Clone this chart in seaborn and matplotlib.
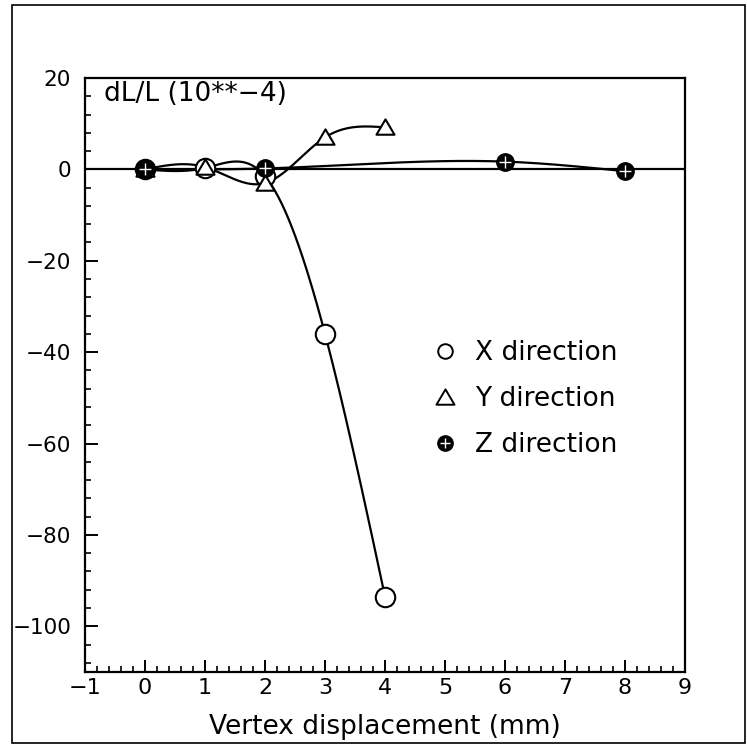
"""Relative length change dL/L versus vertex displacement, one curve per direction."""
import matplotlib
matplotlib.use('Agg')
import numpy as np
import seaborn as sns
from matplotlib import pyplot as plt
from matplotlib.lines import Line2D
from matplotlib.patches import Rectangle
from matplotlib.path import Path
from matplotlib.ticker import MultipleLocator

DPI = 100
FIGURE_SIZE = (7.47, 7.45)

# data
x_dir_pos = [0, 1, 2, 3, 4]
x_dir_val = [0.0, 0.3, -1.5, -36.0, -93.5]
y_dir_pos = [0, 1, 2, 3, 4]
y_dir_val = [0.0, 0.5, -3.0, 7.0, 9.2]
z_dir_pos = [0, 2, 6, 8]
z_dir_val = [0.0, 0.2, 1.7, -0.4]

series_labels = ['X direction', 'Y direction', 'Z direction']
x_ticks = [-1, 0, 1, 2, 3, 4, 5, 6, 7, 8, 9]
y_ticks = [-100, -80, -60, -40, -20, 0, 20]


def natural_spline(xs, ys, num=300):
    """Natural cubic spline through the given points, for drawing the curve."""
    xs = np.asarray(xs, dtype=float)
    ys = np.asarray(ys, dtype=float)
    n = len(xs)
    h = np.diff(xs)
    mat = np.zeros((n, n))
    rhs = np.zeros(n)
    mat[0, 0] = mat[-1, -1] = 1.0
    for i in range(1, n - 1):
        mat[i, i - 1] = h[i - 1]
        mat[i, i] = 2 * (h[i - 1] + h[i])
        mat[i, i + 1] = h[i]
        rhs[i] = 6 * ((ys[i + 1] - ys[i]) / h[i] - (ys[i] - ys[i - 1]) / h[i - 1])
    m = np.linalg.solve(mat, rhs)

    xf = np.linspace(xs[0], xs[-1], num)
    idx = np.clip(np.searchsorted(xs, xf) - 1, 0, n - 2)
    x0, x1 = xs[idx], xs[idx + 1]
    y0, y1 = ys[idx], ys[idx + 1]
    m0, m1, hh = m[idx], m[idx + 1], h[idx]
    a = (x1 - xf) / hh
    b = (xf - x0) / hh
    yf = a * y0 + b * y1 + ((a ** 3 - a) * m0 + (b ** 3 - b) * m1) * hh ** 2 / 6
    return xf, yf


sns.set_style('ticks')
plt.rcParams['font.family'] = ['DejaVu Sans']
plt.rcParams.update({'text.color': 'black', 'axes.labelcolor': 'black',
                     'xtick.color': 'black', 'ytick.color': 'black'})

fig = plt.figure(figsize=FIGURE_SIZE, dpi=DPI)
ax = fig.add_axes([0.1138, 0.098, 0.8032, 0.7973])

# outer frame round the whole picture
fig.patches.append(Rectangle((0.016, 0.003), 0.981, 0.990, transform=fig.transFigure,
                             fill=False, edgecolor='black', linewidth=1.2))

ax.axhline(0, color='black', linewidth=1.6, zorder=2)

# smooth curves through the points
for pos, val in [(x_dir_pos, x_dir_val), (y_dir_pos, y_dir_val), (z_dir_pos, z_dir_val)]:
    xf, yf = natural_spline(pos, val)
    sns.lineplot(x=xf, y=yf, ax=ax, color='black', linewidth=1.6, sort=False,
                 estimator=None, zorder=3)

tri = Path([(-1, -0.8), (1, -0.8), (0, 0.9), (-1, -0.8)],
           [Path.MOVETO, Path.LINETO, Path.LINETO, Path.CLOSEPOLY])

ax.plot(x_dir_pos, x_dir_val, linestyle='none', marker='o', markersize=14,
        markerfacecolor='white', markeredgecolor='black', markeredgewidth=1.5, zorder=4)
ax.plot(y_dir_pos, y_dir_val, linestyle='none', marker=tri, markersize=13,
        markerfacecolor='white', markeredgecolor='black', markeredgewidth=1.5, zorder=5)
ax.plot(z_dir_pos, z_dir_val, linestyle='none', marker='o', markersize=12.5,
        markerfacecolor='black', markeredgecolor='black', zorder=6)
ax.plot(z_dir_pos, z_dir_val, linestyle='none', marker='+', markersize=8,
        markeredgecolor='white', markeredgewidth=1.0, zorder=7)

ax.set_xlim(-1, 9)
ax.set_ylim(-110, 20)
ax.set_xticks(x_ticks)
ax.set_yticks(y_ticks)
ax.xaxis.set_minor_locator(MultipleLocator(0.2))
ax.yaxis.set_minor_locator(MultipleLocator(4))
ax.tick_params(which='both', direction='in', top=False, right=False, colors='black')
ax.tick_params(which='major', length=9, width=1.4)
ax.tick_params(which='minor', length=4.5, width=1.2)
ax.tick_params(axis='x', which='major', labelsize=16, pad=4)
ax.tick_params(axis='y', which='major', labelsize=15.5, pad=10)
for spine in ax.spines.values():
    spine.set_visible(True)
    spine.set_linewidth(1.6)
    spine.set_color('black')

ax.set_xlabel('Vertex displacement (mm)', fontsize=19, labelpad=12)
ax.set_ylabel('')
ax.text(0.032, 0.973, 'dL/L (10**\u22124)', transform=ax.transAxes, fontsize=19,
        ha='left', va='center')

# legend: Z marker is a black disc with a white cross on top
handles = [
    Line2D([], [], linestyle='none', marker='o', markersize=10.5,
           markerfacecolor='white', markeredgecolor='black', markeredgewidth=1.4),
    Line2D([], [], linestyle='none', marker=tri, markersize=13,
           markerfacecolor='white', markeredgecolor='black', markeredgewidth=1.4),
    (Line2D([], [], linestyle='none', marker='o', markersize=11,
            markerfacecolor='black', markeredgecolor='black'),
     Line2D([], [], linestyle='none', marker='+', markersize=7,
            markeredgecolor='white', markeredgewidth=1.0)),
]
ax.legend(handles, series_labels, loc='upper left', bbox_to_anchor=(0.578, 0.543),
          bbox_transform=fig.transFigure, frameon=False, fontsize=19,
          handlelength=1.0, handletextpad=0.65, labelspacing=0.75, borderpad=0,
          borderaxespad=0)

fig.savefig('out.png', dpi=DPI)
